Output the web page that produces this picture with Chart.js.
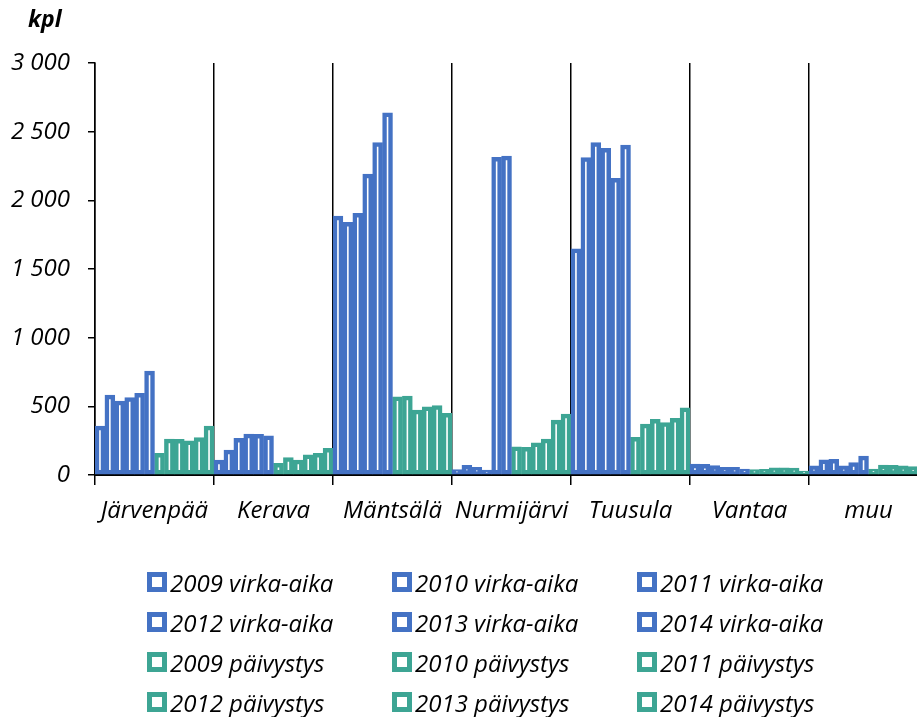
<!DOCTYPE html>
<html>
<head>
<meta charset="utf-8">
<script src="https://cdn.jsdelivr.net/npm/chart.js@4"></script>
<style>
  body { margin: 0; overflow: hidden; background: #fff; font-family: "Open Sans", sans-serif; }
  #wrap { position: relative; width: 930px; height: 717px; }
  #kpl { position: absolute; left: 28px; top: 2px; font: italic bold 23px "Open Sans"; color: #000; }
  .leg { position: absolute; display: flex; align-items: center; font: italic 24px "Open Sans"; color: #000; white-space: nowrap; }
  .leg span.box { width: 10px; height: 10px; border: 5px solid; background: #fff; margin-right: 3px; }
</style>
</head>
<body>
<div id="wrap">
  <canvas id="chart" width="930" height="717"></canvas>
  <div id="kpl">kpl</div>
  <div id="legend"></div>
</div>
<script>
// categories (municipalities)
const categories = ["Järvenpää", "Kerava", "Mäntsälä", "Nurmijärvi", "Tuusula", "Vantaa", "muu"];
const years = ["2009", "2010", "2011", "2012", "2013", "2014"];

// virka-aika (office hours), one array per year
const virka2009 = [357, 109, 1886, 40, 1646, 80, 66];
const virka2010 = [582, 182, 1840, 70, 2311, 78, 110];
const virka2011 = [539, 267, 1905, 55, 2420, 68, 114];
const virka2012 = [563, 298, 2192, 35, 2379, 56, 66];
const virka2013 = [595, 296, 2420, 2313, 2160, 55, 90];
const virka2014 = [757, 286, 2638, 2323, 2403, 44, 138];

// päivystys (on duty), one array per year
const paiv2009 = [158, 85, 570, 206, 274, 40, 44];
const paiv2010 = [262, 126, 575, 201, 371, 42, 72];
const paiv2011 = [260, 109, 473, 235, 406, 52, 70];
const paiv2012 = [248, 146, 497, 262, 381, 53, 66];
const paiv2013 = [272, 158, 505, 400, 413, 50, 62];
const paiv2014 = [357, 194, 449, 444, 490, 28, 55];

const yTicks = [0, 500, 1000, 1500, 2000, 2500, 3000];

const blue = "#4472C4";
const green = "#3DA594";

const virka = [virka2009, virka2010, virka2011, virka2012, virka2013, virka2014];
const paiv = [paiv2009, paiv2010, paiv2011, paiv2012, paiv2013, paiv2014];

const makeSet = (label, data, color) => ({
  label,
  data,
  backgroundColor: "#fff",
  borderColor: color,
  borderWidth: 4.5,
  borderSkipped: false,
  categoryPercentage: 1,
  barPercentage: 1,
});

const datasets = [
  ...virka.map((d, i) => makeSet(years[i] + " virka-aika", d, blue)),
  ...paiv.map((d, i) => makeSet(years[i] + " päivystys", d, green)),
];

const fmt = v => String(v).replace(/\B(?=(\d{3})+(?!\d))/g, " ");

const chart = new Chart(document.getElementById("chart"), {
  type: "bar",
  data: { labels: categories, datasets },
  options: {
    responsive: false,
    devicePixelRatio: 1,
    animation: false,
    layout: { padding: { top: 63, right: 2, left: 0, bottom: 0 } },
    plugins: { legend: { display: false }, tooltip: { enabled: false } },
    scales: {
      x: {
        grid: { color: "#000", lineWidth: 1.5, tickLength: 10, offset: true },
        border: { color: "#000", width: 2 },
        ticks: {
          color: "#000",
          padding: 12,
          maxRotation: 0,
          font: { family: "Open Sans", size: 24, style: "italic" },
        },
        afterFit: s => { s.height = 717 - 475; },
      },
      y: {
        min: 0,
        max: 3000,
        afterBuildTicks: s => { s.ticks = yTicks.map(v => ({ value: v })); },
        grid: { color: "#000", lineWidth: 1.5, drawOnChartArea: false, tickLength: 7 },
        border: { color: "#000", width: 1.5 },
        ticks: {
          color: "#000",
          padding: 18,
          callback: v => fmt(v),
          font: { family: "Open Sans", size: 24, style: "italic" },
        },
        afterFit: s => { s.width = 95; },
      },
    },
  },
});

// legend in three columns, built from the datasets
const legend = document.getElementById("legend");
const colX = [147, 392, 637];
const rowY = [582, 622, 662, 702];
chart.data.datasets.forEach((ds, i) => {
  const el = document.createElement("div");
  el.className = "leg";
  el.style.left = colX[i % 3] + "px";
  el.style.top = (rowY[Math.floor(i / 3)] - 16) + "px";
  el.style.height = "32px";
  el.innerHTML = '<span class="box" style="border-color:' + ds.borderColor + '"></span>' + ds.label;
  legend.appendChild(el);
});
</script>
</body>
</html>
